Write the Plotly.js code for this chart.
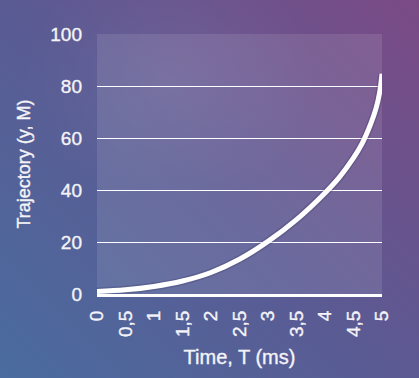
<!DOCTYPE html>
<html>
<head>
<meta charset="utf-8">
<script src="https://cdn.plot.ly/plotly-3.0.1.min.js"></script>
<style>
  html, body { margin: 0; padding: 0; width: 419px; height: 378px; overflow: hidden; }
  body {
    background:
      radial-gradient(ellipse 150px 130px at 170px 80px, rgba(255,255,255,0.06), rgba(255,255,255,0) 100%),
      linear-gradient(45deg, #4a6c9f 0%, #5b5a93 50%, #7b4a85 100%);
  }
  #chart { width: 419px; height: 378px; }
  #chart svg text { stroke: #f4f4f8; stroke-width: 0.35px; }
</style>
</head>
<body>
<div id="chart"></div>
<script>
const timeMs = [0, 0.5, 1, 1.5, 2, 2.5, 3, 3.5, 4, 4.25, 4.5, 4.65, 4.8, 4.9, 4.96, 5];
const trajectory = [1, 1.6, 2.9, 5.0, 8.3, 13.4, 20.3, 28.7, 39, 45, 52.5, 58, 65.5, 72, 78, 85];
const xTicks = [0, 0.5, 1, 1.5, 2, 2.5, 3, 3.5, 4, 4.5, 5];
const yTicks = [0, 20, 40, 60, 80, 100];

const fontFam = '"Liberation Sans", Arial, Helvetica, sans-serif';
const txt = '#f4f4f8';

const traces = [
  {
    x: timeMs, y: trajectory, type: 'scatter', mode: 'lines',
    line: { color: 'rgba(40,30,70,0.18)', width: 8, shape: 'spline', smoothing: 1 },
    hoverinfo: 'skip', showlegend: false
  },
  {
    x: timeMs, y: trajectory, type: 'scatter', mode: 'lines',
    line: { color: '#ffffff', width: 5, shape: 'spline', smoothing: 1 },
    showlegend: false
  }
];

const layout = {
  width: 419, height: 378,
  margin: { l: 97, r: 37, t: 34, b: 84 },
  paper_bgcolor: 'rgba(0,0,0,0)',
  plot_bgcolor: 'rgba(255,255,255,0.10)',
  separators: ',.',
  font: { family: fontFam, color: txt, size: 18 },
  xaxis: {
    range: [0, 5],
    tickvals: xTicks,
    tickangle: -90,
    showgrid: false,
    zeroline: false,
    showline: true, linecolor: '#ffffff', linewidth: 3,
    ticks: '', ticklabelstandoff: 6,
    tickfont: { size: 19, color: txt, family: fontFam },
    title: { text: 'Time, T (ms)', font: { size: 20, color: txt, family: fontFam }, standoff: 14 },
    fixedrange: true
  },
  yaxis: {
    range: [0, 100.3],
    tickvals: yTicks,
    showgrid: true, gridcolor: '#ffffff', gridwidth: 1,
    zeroline: false,
    showline: false,
    ticks: '', ticklabelstandoff: 14,
    tickfont: { size: 19, color: txt, family: fontFam },
    title: { text: 'Trajectory (y, M)', font: { size: 18, color: txt, family: fontFam }, standoff: 14 },
    fixedrange: true
  }
};

Plotly.newPlot('chart', traces, layout, { displayModeBar: false, staticPlot: true });
</script>
</body>
</html>
